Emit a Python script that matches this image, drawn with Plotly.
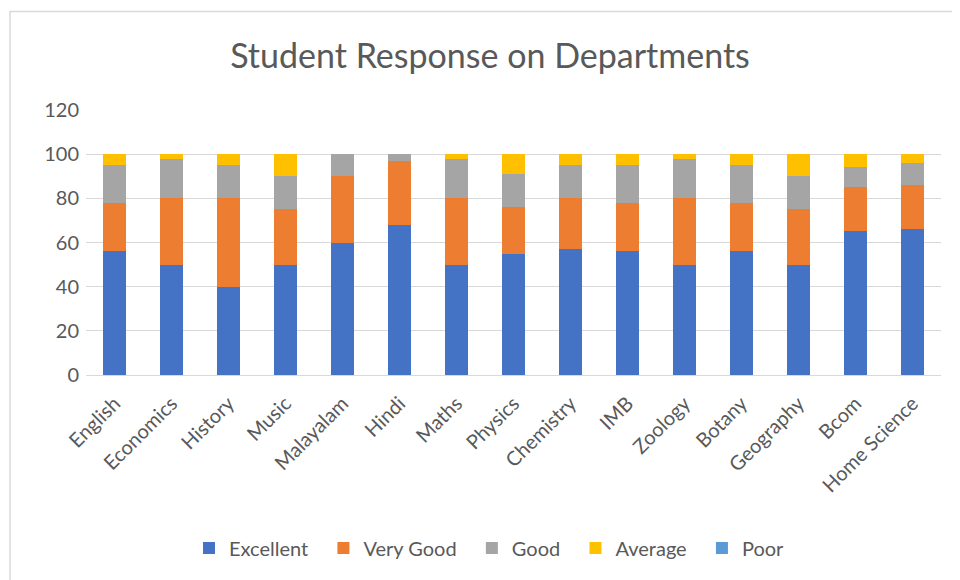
import plotly.graph_objects as go

departments = ["English", "Economics", "History", "Music", "Malayalam", "Hindi", "Maths",
               "Physics", "Chemistry", "IMB", "Zoology", "Botany", "Geography", "Bcom",
               "Home Science"]
excellent = [56, 50, 40, 50, 60, 68, 50, 55, 57, 56, 50, 56, 50, 65, 66]
very_good = [22, 30, 40, 25, 30, 29, 30, 21, 23, 22, 30, 22, 25, 20, 20]
good      = [17, 18, 15, 15, 10, 3, 18, 15, 15, 17, 18, 17, 15, 9, 10]
average   = [5, 2, 5, 10, 0, 0, 2, 9, 5, 5, 2, 5, 10, 6, 4]
poor      = [0, 0, 0, 0, 0, 0, 0, 0, 0, 0, 0, 0, 0, 0, 0]

series = [
    ("Excellent", excellent, "#4472C4"),
    ("Very Good", very_good, "#ED7D31"),
    ("Good", good, "#A5A5A5"),
    ("Average", average, "#FFC000"),
    ("Poor", poor, "#5B9BD5"),
]

FONT = "Lato"
TXT = "#595959"
OFF = 8  # page body margin offset

fig = go.Figure()
for name, vals, col in series:
    fig.add_trace(go.Bar(name=name + "\u00a0\u00a0", x=departments, y=vals,
                         marker_color=col, marker_line_width=0))

W, H = 960, 580
L, R, T, B = 86 - OFF, 19 + OFF, 110 - OFF, 205 + OFF
pw, ph = W - L - R, H - T - B

def px2paper_x(px):
    return (px - OFF - L) / pw

def px2paper_y(py):
    return (H - B - (py - OFF)) / ph

fig.update_layout(
    width=W, height=H,
    barmode="stack", bargap=0.6,
    plot_bgcolor="white", paper_bgcolor="white",
    margin=dict(l=L, r=R, t=T, b=B),
    font=dict(family=FONT, color=TXT),
    title=dict(text="Student Response on Departments", x=(490 - OFF) / W, xanchor="center",
               y=1 - (56 - OFF) / H, yanchor="middle",
               font=dict(size=34, color=TXT, family=FONT)),
    legend=dict(orientation="h", x=(494 - OFF) / W, xref="container", xanchor="center",
                y=1 - (548 - OFF) / H, yref="container", yanchor="middle",
                font=dict(size=20, color=TXT, family=FONT), traceorder="normal",
                itemwidth=30),
    xaxis=dict(tickangle=-45, tickfont=dict(size=20, color=TXT), showgrid=False,
               showline=True, linecolor="#D9D9D9", linewidth=1, ticks="",
               ticklabelstandoff=8),
    yaxis=dict(range=[0, 120], dtick=20, tickfont=dict(size=20, color=TXT),
               showgrid=True, gridcolor="#D9D9D9", gridwidth=1, zeroline=False,
               ticks="", showline=False, ticklabelstandoff=6),
    shapes=[dict(type="rect", xref="paper", yref="paper",
                 x0=px2paper_x(10), x1=px2paper_x(985),
                 y0=px2paper_y(610), y1=px2paper_y(11.5),
                 line=dict(color="#D9D9D9", width=1.5), fillcolor="rgba(0,0,0,0)",
                 layer="below")],
)

fig.write_html("out.html")
